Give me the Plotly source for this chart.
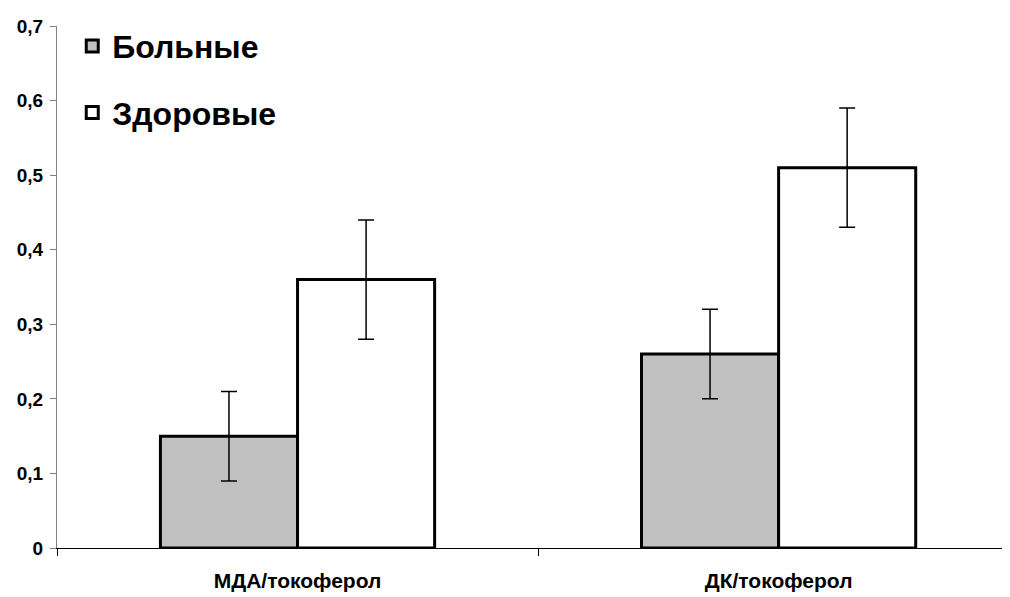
import plotly.graph_objects as go

categories = ["МДА/токоферол", "ДК/токоферол"]
sick = [0.15, 0.26]
sick_err = [0.06, 0.06]
healthy = [0.36, 0.51]
healthy_err = [0.08, 0.08]
y_ticks = [0, 0.1, 0.2, 0.3, 0.4, 0.5, 0.6, 0.7]
y_labels = ["0", "0,1", "0,2", "0,3", "0,4", "0,5", "0,6", "0,7"]

FONT = "Liberation Sans, Arial, sans-serif"

fig = go.Figure()
fig.add_trace(go.Bar(
    x=categories, y=sick, name="Больные", legendgroup="a",
    marker=dict(color="#C0C0C0", line=dict(color="black", width=3)),
    error_y=dict(type="data", array=sick_err, color="black", thickness=1.5, width=8),
))
fig.add_trace(go.Bar(
    x=categories, y=healthy, name="Здоровые", legendgroup="b",
    marker=dict(color="white", line=dict(color="black", width=3)),
    error_y=dict(type="data", array=healthy_err, color="black", thickness=1.5, width=8),
))

fig.update_layout(
    width=1002, height=589,
    margin=dict(l=49, r=0, t=18, b=49, autoexpand=False),
    paper_bgcolor="white", plot_bgcolor="white",
    barmode="group", bargap=0.43, bargroupgap=0,
    font=dict(family=FONT, color="black"),
    legend=dict(
        x=0.016, y=1.014, xanchor="left", yanchor="top",
        font=dict(family=FONT, size=32, color="black", weight="bold"),
        bgcolor="rgba(0,0,0,0)", tracegroupgap=22, traceorder="grouped",
        itemwidth=30,
    ),
    xaxis=dict(
        type="category", range=[-0.5, 1.481], tickson="boundaries",
        automargin=False,
        showline=True, linecolor="black", linewidth=1,
        ticks="outside", ticklen=7, tickcolor="black",
        tickfont=dict(family=FONT, size=21, color="black", weight="bold"),
        ticklabelstandoff=14, showgrid=False, zeroline=False,
    ),
    yaxis=dict(
        range=[0, 0.7], tickvals=y_ticks, ticktext=y_labels,
        automargin=False,
        showline=True, linecolor="#808080", linewidth=1,
        ticks="outside", ticklen=6, tickcolor="#808080",
        tickfont=dict(family=FONT, size=19, color="black", weight="bold"),
        ticklabelstandoff=3, showgrid=False, zeroline=False,
    ),
)

fig.write_html("out.html")
